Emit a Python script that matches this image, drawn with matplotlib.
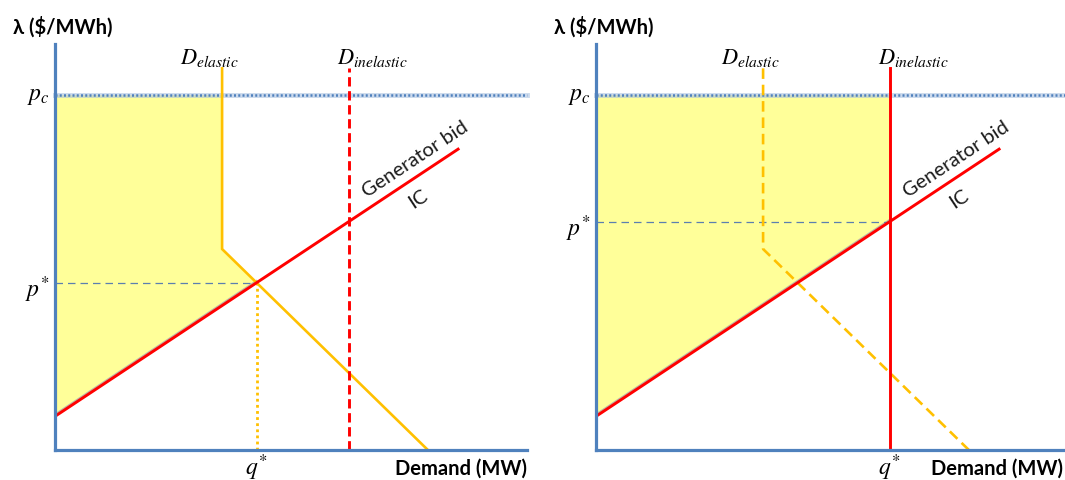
import numpy as np
import matplotlib
matplotlib.use("Agg")
import matplotlib.pyplot as plt

plt.rcParams["font.family"] = ["Lato", "DejaVu Sans"]
plt.rcParams["mathtext.fontset"] = "stix"

# ---- data (price in $/MWh units, demand in MW units, 0..100 scale) ----
price_cap = 87.4
gen_x = [0.4, 85.4]          # generator bid / incremental cost curve
gen_y = [8.6, 74.1]
elastic_x = [35.4, 35.4, 79.0]   # elastic demand curve (kinked)
elastic_y = [94.0, 49.5, 0.0]
inelastic_q = 62.2               # inelastic demand quantity
demand_top = 94.0

AXIS_BLUE = "#4F81BD"
RED = "#FF0000"
ORANGE = "#FFC000"
FILL = "#FFFF99"


def gen_price(q):
    slope = (gen_y[1] - gen_y[0]) / (gen_x[1] - gen_x[0])
    return gen_y[0] + slope * (q - gen_x[0])


def elastic_equilibrium():
    # intersection of the sloped part of elastic demand with the bid curve
    gs = (gen_y[1] - gen_y[0]) / (gen_x[1] - gen_x[0])
    ds = (elastic_y[2] - elastic_y[1]) / (elastic_x[2] - elastic_x[1])
    q = (elastic_y[1] - ds * elastic_x[1] - gen_y[0] + gs * gen_x[0]) / (gs - ds)
    return q, gen_price(q)


W, H = 1065, 481
fig = plt.figure(figsize=(W / 100, H / 100), dpi=100)

ax_w, ax_h = 472, 406
axes = [
    fig.add_axes([55 / W, 30 / H, ax_w / W, ax_h / H]),
    fig.add_axes([596 / W, 30 / H, ax_w / W, ax_h / H]),
]

angle = np.degrees(np.arctan((gen_y[1] - gen_y[0]) / (gen_x[1] - gen_x[0])))

for i, ax in enumerate(axes):
    ax.set_xlim(0, 100)
    ax.set_ylim(0, 100)
    for s in ("top", "right"):
        ax.spines[s].set_visible(False)
    for s in ("left", "bottom"):
        ax.spines[s].set_color(AXIS_BLUE)
        ax.spines[s].set_linewidth(2.3)
        ax.spines[s].set_zorder(6)
    ax.set_xticks([])
    ax.set_yticks([])
    ax.patch.set_alpha(0)

    if i == 0:
        q_star, p_star = elastic_equilibrium()
        poly_x = [0, elastic_x[0], elastic_x[1], q_star, gen_x[0], 0]
        poly_y = [price_cap, price_cap, elastic_y[1], p_star, gen_y[0], gen_y[0]]
    else:
        q_star, p_star = inelastic_q, gen_price(inelastic_q)
        poly_x = [0, q_star, q_star, gen_x[0], 0]
        poly_y = [price_cap, price_cap, p_star, gen_y[0], gen_y[0]]

    # consumer surplus area
    ax.fill(poly_x, poly_y, color=FILL, lw=0, zorder=1)
    # faint shadow along the bid curve edge
    ax.plot([gen_x[0], q_star], [gen_y[0] + 0.5, gen_price(q_star) + 0.5],
            color="#b8b8a8", lw=1.2, zorder=2)

    # price cap line with soft glow
    ax.plot([0, 100], [price_cap, price_cap], color="#A9C1E0", lw=3.5,
            alpha=0.6, zorder=2, clip_on=False)
    ax.plot([0, 100], [price_cap, price_cap], color=AXIS_BLUE, lw=1.8,
            ls=(0, (0.8, 0.9)), zorder=3, clip_on=False)

    # p* guide line
    ax.plot([0, q_star], [p_star, p_star], color="#5B7FB0", lw=0.9,
            ls=(0, (6, 4)), zorder=3)

    # elastic demand
    ax.plot(elastic_x, elastic_y, color=ORANGE, lw=1.9,
            ls="-" if i == 0 else (0, (4, 2.2)), zorder=4,
            solid_joinstyle="miter", clip_on=False)

    # inelastic demand
    ax.plot([inelastic_q, inelastic_q], [0, demand_top], color=RED, lw=2.1,
            ls=(0, (3.2, 1.6)) if i == 0 else "-", zorder=4, clip_on=False)

    # generator bid
    ax.plot(gen_x, gen_y, color=RED, lw=2.1, zorder=5)

    if i == 0:
        ax.plot([q_star, q_star], [0, p_star], color=ORANGE, lw=2.0,
                ls=(0, (1, 1.2)), zorder=3)

    # labels
    ax.text(-8.9, 104.4, "λ ($/MWh)", fontsize=14.5, fontweight="bold",
            ha="left", va="center", clip_on=False)
    ax.text(100 if i == 0 else 99.0, -4.3, "Demand (MW)", fontsize=14.5,
            fontweight="bold", ha="right", va="center", clip_on=False)
    ax.text(-1.2, price_cap, r"$p_c$", fontsize=17, ha="right",
            va="center", clip_on=False)
    ax.text(-1.2, p_star - 1.5, r"$p^{*}$", fontsize=17, ha="right",
            va="center", clip_on=False)
    ax.text(q_star, -4.0, r"$q^{*}$", fontsize=17, ha="center",
            va="center", clip_on=False)
    ax.text(elastic_x[0] - 8.9, 95.2, r"$D_{elastic}$", fontsize=16,
            ha="left", va="baseline", clip_on=False)
    ax.text(inelastic_q - 2.4, 95.2, r"$D_{inelastic}$", fontsize=16,
            ha="left", va="baseline", clip_on=False)

    ax.text(76.3, 71.8, "Generator bid", fontsize=14.5, ha="center",
            va="center", rotation=angle, rotation_mode="anchor",
            transform_rotates_text=True, color="#1a1a1a")
    ax.text(77.0, 62.0, "IC", fontsize=14.5, ha="center", va="center",
            rotation=angle, rotation_mode="anchor",
            transform_rotates_text=True, color="#1a1a1a")

fig.savefig("out.png", dpi=100, facecolor="white")
